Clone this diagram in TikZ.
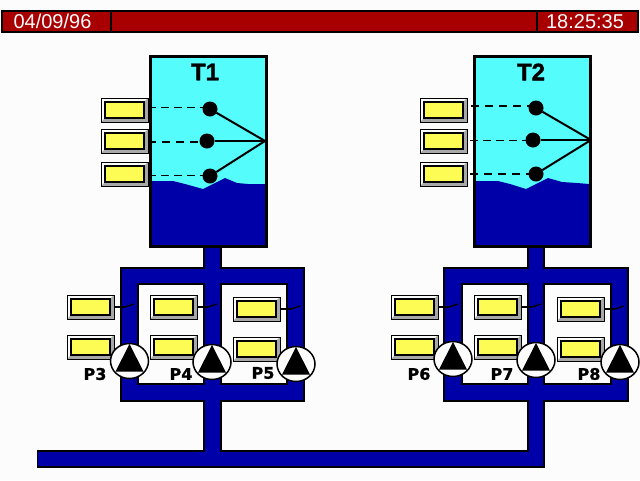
\documentclass[tikz,border=0pt]{standalone}
\usepackage{fontspec}
\setmainfont{Liberation Sans}
\newfontfamily\pumpfont[UprightFont=* Bold,FakeBold=1]{DejaVu Sans}
\newfontfamily\tankfont[UprightFont=* Bold,FakeBold=1.5]{Liberation Sans}
\definecolor{barred}{HTML}{A80000}
\definecolor{pipeblue}{HTML}{0000A8}
\definecolor{tankcyan}{HTML}{54FCFC}
\definecolor{dispyellow}{HTML}{FCFC54}
\definecolor{bevelgray}{HTML}{A8A8A8}
\definecolor{paper}{HTML}{FCFCFC}
\usetikzlibrary{calc,shapes.geometric}
\tikzset{
  barcell/.style={draw=black,line width=2pt,fill=barred,inner sep=0pt,outer sep=0pt},
  bartext/.style={text=paper,inner sep=0pt,font=\fontsize{20}{20}\selectfont},
  pipe/.style={draw=black,line width=1.3pt,fill=pipeblue},
  bay/.style={draw=black,line width=1.6pt,fill=paper},
  tankshell/.style={draw=black,line width=2.4pt,inner sep=0pt,outer sep=0pt,minimum width=116pt,minimum height=190pt},
  liquid/.style={fill=pipeblue},
  probe/.style={circle,fill=black,inner sep=0pt,outer sep=0pt,minimum size=15pt},
  wire/.style={draw=black,line width=2pt},
  thinleader/.style={draw=black,line width=1pt,dash pattern=on 8pt off 5pt},
  thickleader/.style={draw=black,line width=2pt,dash pattern=on 8pt off 6pt},
  dispbox/.style={draw=black,line width=.8pt,inner sep=0pt,outer sep=0pt,minimum width=47pt,minimum height=24pt},
  dispface/.style={draw=black,line width=1.1pt,fill=dispyellow},
  pumpbody/.style={ellipse,draw=black,line width=1.5pt,fill=paper,inner sep=0pt,outer sep=0pt,minimum width=38pt,minimum height=35pt},
  pumplabel/.style={inner sep=0pt,font=\pumpfont\fontsize{16}{16}\selectfont},
  tanklabel/.style={inner sep=0pt,font=\tankfont\fontsize{24}{24}\selectfont},
  stubthick/.style={draw=black,line width=2.2pt},
  stubthin/.style={draw=black,line width=1.3pt}
}
% display box: name, left, top
\newcommand{\dispunit}[3]{%
  \fill[paper] (#2,#3) rectangle ++(47,24);
  \fill[bevelgray] (#2+47,#3) -- (#2+47,#3+24) -- (#2,#3+24) -- (#2+4,#3+20) -- (#2+43,#3+20) -- (#2+43,#3+4) -- cycle;
  \draw[dispface] (#2+4,#3+4) rectangle (#2+43,#3+20);
  \node[dispbox,anchor=north west] (#1) at (#2,#3) {};
}
% pump: name, cx, cy
\newcommand{\pumpunit}[3]{%
  \node[pumpbody] (#1) at (#2,#3) {};
  \fill[black] (#2,#3-17) -- (#2+14,#3+10.5) -- (#2-14,#3+10.5) -- cycle;
}
% switch on a display box: box name, free-end name
\newcommand{\switchwire}[2]{%
  \coordinate (#2a) at ($(#1.east)+(11,0)$);
  \coordinate (#2) at ($(#1.east)+(20,-3)$);
  \draw[stubthick] (#1.east) -- (#2a);
  \draw[stubthin] (#2a) -- (#2);
}
\begin{document}
\begin{tikzpicture}[x=1pt,y=-1pt]
\useasboundingbox (0,0) rectangle (640,480);
\fill[paper] (0,0) rectangle (640,480);
% title bar
\node[barcell,anchor=north west,minimum width=109pt,minimum height=21pt] (bardate) at (2,11) {};
\node[barcell,anchor=north west,minimum width=426pt,minimum height=21pt] (barmid) at (111,11) {};
\node[barcell,anchor=north west,minimum width=101pt,minimum height=21pt] (bartime) at (537,11) {};
\node[bartext] (datetext) at (52.5,21.5) {04/09/96};
\node[bartext] (timetext) at (585,21.5) {18:25:35};
% pipework
\path[pipe] (204,247) -- (204,268) -- (121,268) -- (121,401) -- (204,401) -- (204,451) -- (37.5,451) -- (37.5,467)
  -- (544,467) -- (544,401) -- (628,401) -- (628,268) -- (544,268) -- (544,247) -- (528,247) -- (528,268)
  -- (444,268) -- (444,401) -- (528,401) -- (528,451) -- (221,451) -- (221,401) -- (304,401) -- (304,268)
  -- (221,268) -- (221,247) -- cycle;
\path[bay] (138,284) rectangle (204,384);
\path[bay] (221,284) rectangle (287,384);
\path[bay] (462,284) rectangle (528,384);
\path[bay] (544,284) rectangle (611,384);
% tank T1
\node[tankshell,fill=tankcyan,anchor=north west] (t1) at (150.5,56.5) {};
\fill[liquid] (151,181) -- (173,181) -- (185,184) -- (203,189) -- (225,178) -- (237,183) -- (248,184) -- (266,184) -- (266,246) -- (151,246) -- cycle;
\node[tankshell,anchor=north west] (t1rim) at (150.5,56.5) {};
\node[tanklabel] (t1label) at (205,72) {T1};
\coordinate (t1apex) at (265,141);
\node[probe] (a1) at (210,109) {};
\node[probe] (a2) at (207,141) {};
\node[probe] (a3) at (210,176) {};
\draw[wire] (a1) -- (t1apex);
\draw[wire] (a2) -- (t1apex);
\draw[wire] (a3) -- (t1apex);
\dispunit{b1}{101}{98}
\dispunit{b2}{101}{129}
\dispunit{b3}{101}{162}
\coordinate (b1s) at (148,107);
\coordinate (b2s) at (148,142);
\coordinate (b3s) at (148,175);
\draw[thinleader] (b1s) -- (b1s -| a1);
\draw[thickleader] (b2s) -- (b2s -| a2);
\draw[thinleader] (b3s) -- (b3s -| a3);
% tank T2
\node[tankshell,fill=tankcyan,anchor=north west] (t2) at (474.5,56.5) {};
\fill[liquid] (475,181) -- (498,181) -- (510,184) -- (526,189) -- (548,178) -- (562,182) -- (577,183) -- (589,184) -- (589,246) -- (475,246) -- cycle;
\node[tankshell,anchor=north west] (t2rim) at (474.5,56.5) {};
\node[tanklabel] (t2label) at (531,72) {T2};
\coordinate (t2apex) at (591,140);
\node[probe] (c1) at (536,108) {};
\node[probe] (c2) at (533,140) {};
\node[probe] (c3) at (536,174) {};
\draw[wire] (c1) -- (t2apex);
\draw[wire] (c2) -- (t2apex);
\draw[wire] (c3) -- (t2apex);
\dispunit{d1}{420}{98}
\dispunit{d2}{420}{129}
\dispunit{d3}{420}{162}
\coordinate (d1s) at (471,106);
\coordinate (d2s) at (470,140);
\coordinate (d3s) at (470,174);
\draw[thickleader] (d1s) -- (d1s -| c1);
\draw[thinleader] (d2s) -- (d2s -| c2);
\draw[thickleader] (d3s) -- (d3s -| c3);
% pump display boxes
\dispunit{e1}{67}{295}\dispunit{e2}{67}{335}
\dispunit{f1}{150}{295}\dispunit{f2}{150}{335}
\dispunit{g1}{233}{297}\dispunit{g2}{233}{337}
\dispunit{h1}{391}{295}\dispunit{h2}{391}{335}
\dispunit{i1}{474}{295}\dispunit{i2}{474}{335}
\dispunit{j1}{557}{297}\dispunit{j2}{557}{337}
\switchwire{e1}{se}
\switchwire{f1}{sf}
\switchwire{g1}{sg}
\switchwire{h1}{sh}
\switchwire{i1}{si}
\switchwire{j1}{sj}
% pumps
\pumpunit{p3}{129.5}{361}
\pumpunit{p4}{212}{362}
\pumpunit{p5}{296}{364}
\pumpunit{p6}{453}{359}
\pumpunit{p7}{536}{360}
\pumpunit{p8}{620}{362}
\node[pumplabel] (l3) at (95,374) {P3};
\node[pumplabel] (l4) at (181,374) {P4};
\node[pumplabel] (l5) at (263,373) {P5};
\node[pumplabel] (l6) at (419,374) {P6};
\node[pumplabel] (l7) at (502,374) {P7};
\node[pumplabel] (l8) at (589,374) {P8};
\end{tikzpicture}
\end{document}
